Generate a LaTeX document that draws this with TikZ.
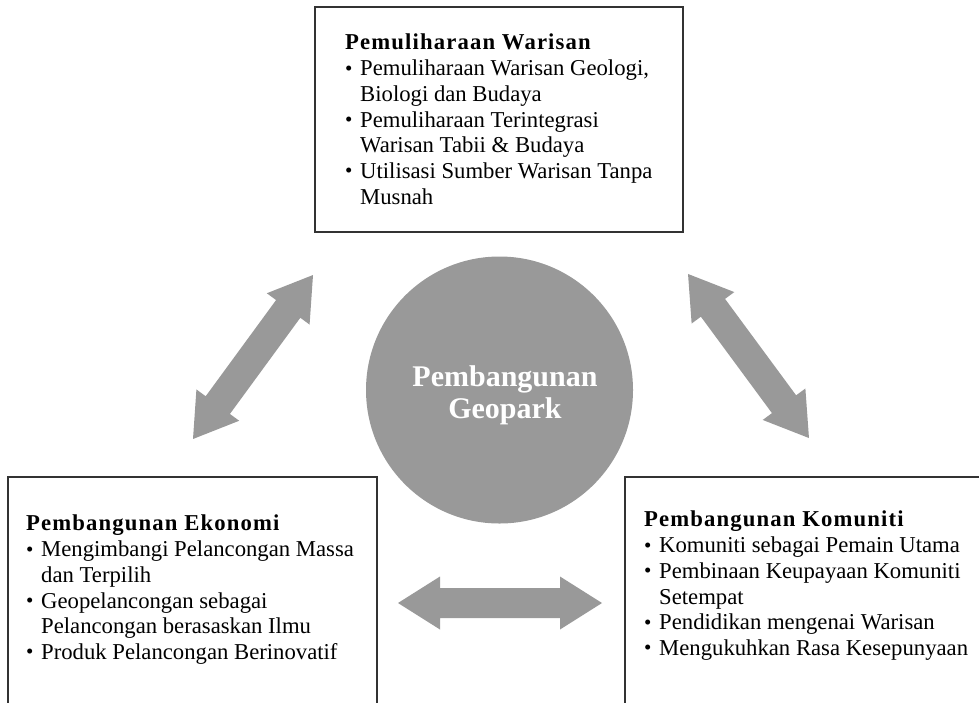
\documentclass[tikz,border=0pt]{standalone}
\usepackage{fontspec}
\setmainfont{Liberation Serif}
\newfontfamily\spacedfont[LetterSpace=5]{Liberation Serif}
\definecolor{geogray}{HTML}{999999}
\definecolor{boxline}{HTML}{333333}
\newcommand{\bul}{\makebox[15pt][l]{\raisebox{0.5pt}{\fontsize{21pt}{21pt}\selectfont\textbullet}}}
\newcommand{\ind}{\hspace*{15pt}}
\newcommand{\ttl}[1]{{\spacedfont\bfseries #1}}
\tikzset{
  frame/.style={draw=boxline, line width=1.2pt, fill=none},
  boxtext/.style={anchor=north west, inner sep=0pt, align=left,
    font=\fontsize{22.7pt}{25.7pt}\selectfont},
  bigarrow/.style={fill=geogray, draw=none},
}
\begin{document}
\begin{tikzpicture}[x=1pt,y=-1pt]
\useasboundingbox (0,0) rectangle (979,702);
\clip (0,0) rectangle (979,702);
\fill[white] (0,0) rectangle (979,702);
% frames
\draw[frame] (315,7) rectangle (683,232);
\draw[frame] (8,477) rectangle (377,730);
\draw[frame] (625,477) rectangle (1000,730);
% circle
\node[circle, fill=geogray, minimum size=267pt, inner sep=0pt] (hub) at (499.5,390) {};
\node[font=\fontsize{30pt}{32pt}\selectfont\bfseries, text=white, align=center, inner sep=0pt] (hubtxt) at (505,395) {Pembangunan\\Geopark};
% texts
\node[boxtext] (toptxt) at (345,34) {\ttl{Pemuliharaan Warisan}\\
\bul Pemuliharaan Warisan Geologi,\\
\ind Biologi dan Budaya\\
\bul Pemuliharaan Terintegrasi\\
\ind Warisan Tabii \& Budaya\\
\bul Utilisasi Sumber Warisan Tanpa\\
\ind Musnah};
\node[boxtext] (lefttxt) at (26,515) {\ttl{Pembangunan Ekonomi}\\
\bul Mengimbangi Pelancongan Massa\\
\ind dan Terpilih\\
\bul Geopelancongan sebagai\\
\ind Pelancongan berasaskan Ilmu\\
\bul Produk Pelancongan Berinovatif};
\node[boxtext] (righttxt) at (644,511) {\ttl{Pembangunan Komuniti}\\
\bul Komuniti sebagai Pemain Utama\\
\bul Pembinaan Keupayaan Komuniti\\
\ind Setempat\\
\bul Pendidikan mengenai Warisan\\
\bul Mengukuhkan Rasa Kesepunyaan};
% arrows
\begin{scope}[shift={(500,603)}]
\fill[bigarrow] (-102,0) -- (-60,26.5) -- (-60,15) -- (60,15) -- (60,26.5) -- (102,0) -- (60,-26.5) -- (60,-15) -- (-60,-15) -- (-60,-26.5) -- cycle;
\end{scope}
\begin{scope}[shift={(253,357)}, rotate=53.8]
\fill[bigarrow] (-101.6,0) -- (-59.6,26.5) -- (-59.6,15) -- (59.6,15) -- (59.6,26.5) -- (101.6,0) -- (59.6,-26.5) -- (59.6,-15) -- (-59.6,-15) -- (-59.6,-26.5) -- cycle;
\end{scope}
\begin{scope}[shift={(748.5,356)}, rotate=-53.6]
\fill[bigarrow] (-101.9,0) -- (-59.9,26.5) -- (-59.9,15) -- (59.9,15) -- (59.9,26.5) -- (101.9,0) -- (59.9,-26.5) -- (59.9,-15) -- (-59.9,-15) -- (-59.9,-26.5) -- cycle;
\end{scope}
\end{tikzpicture}
\end{document}
